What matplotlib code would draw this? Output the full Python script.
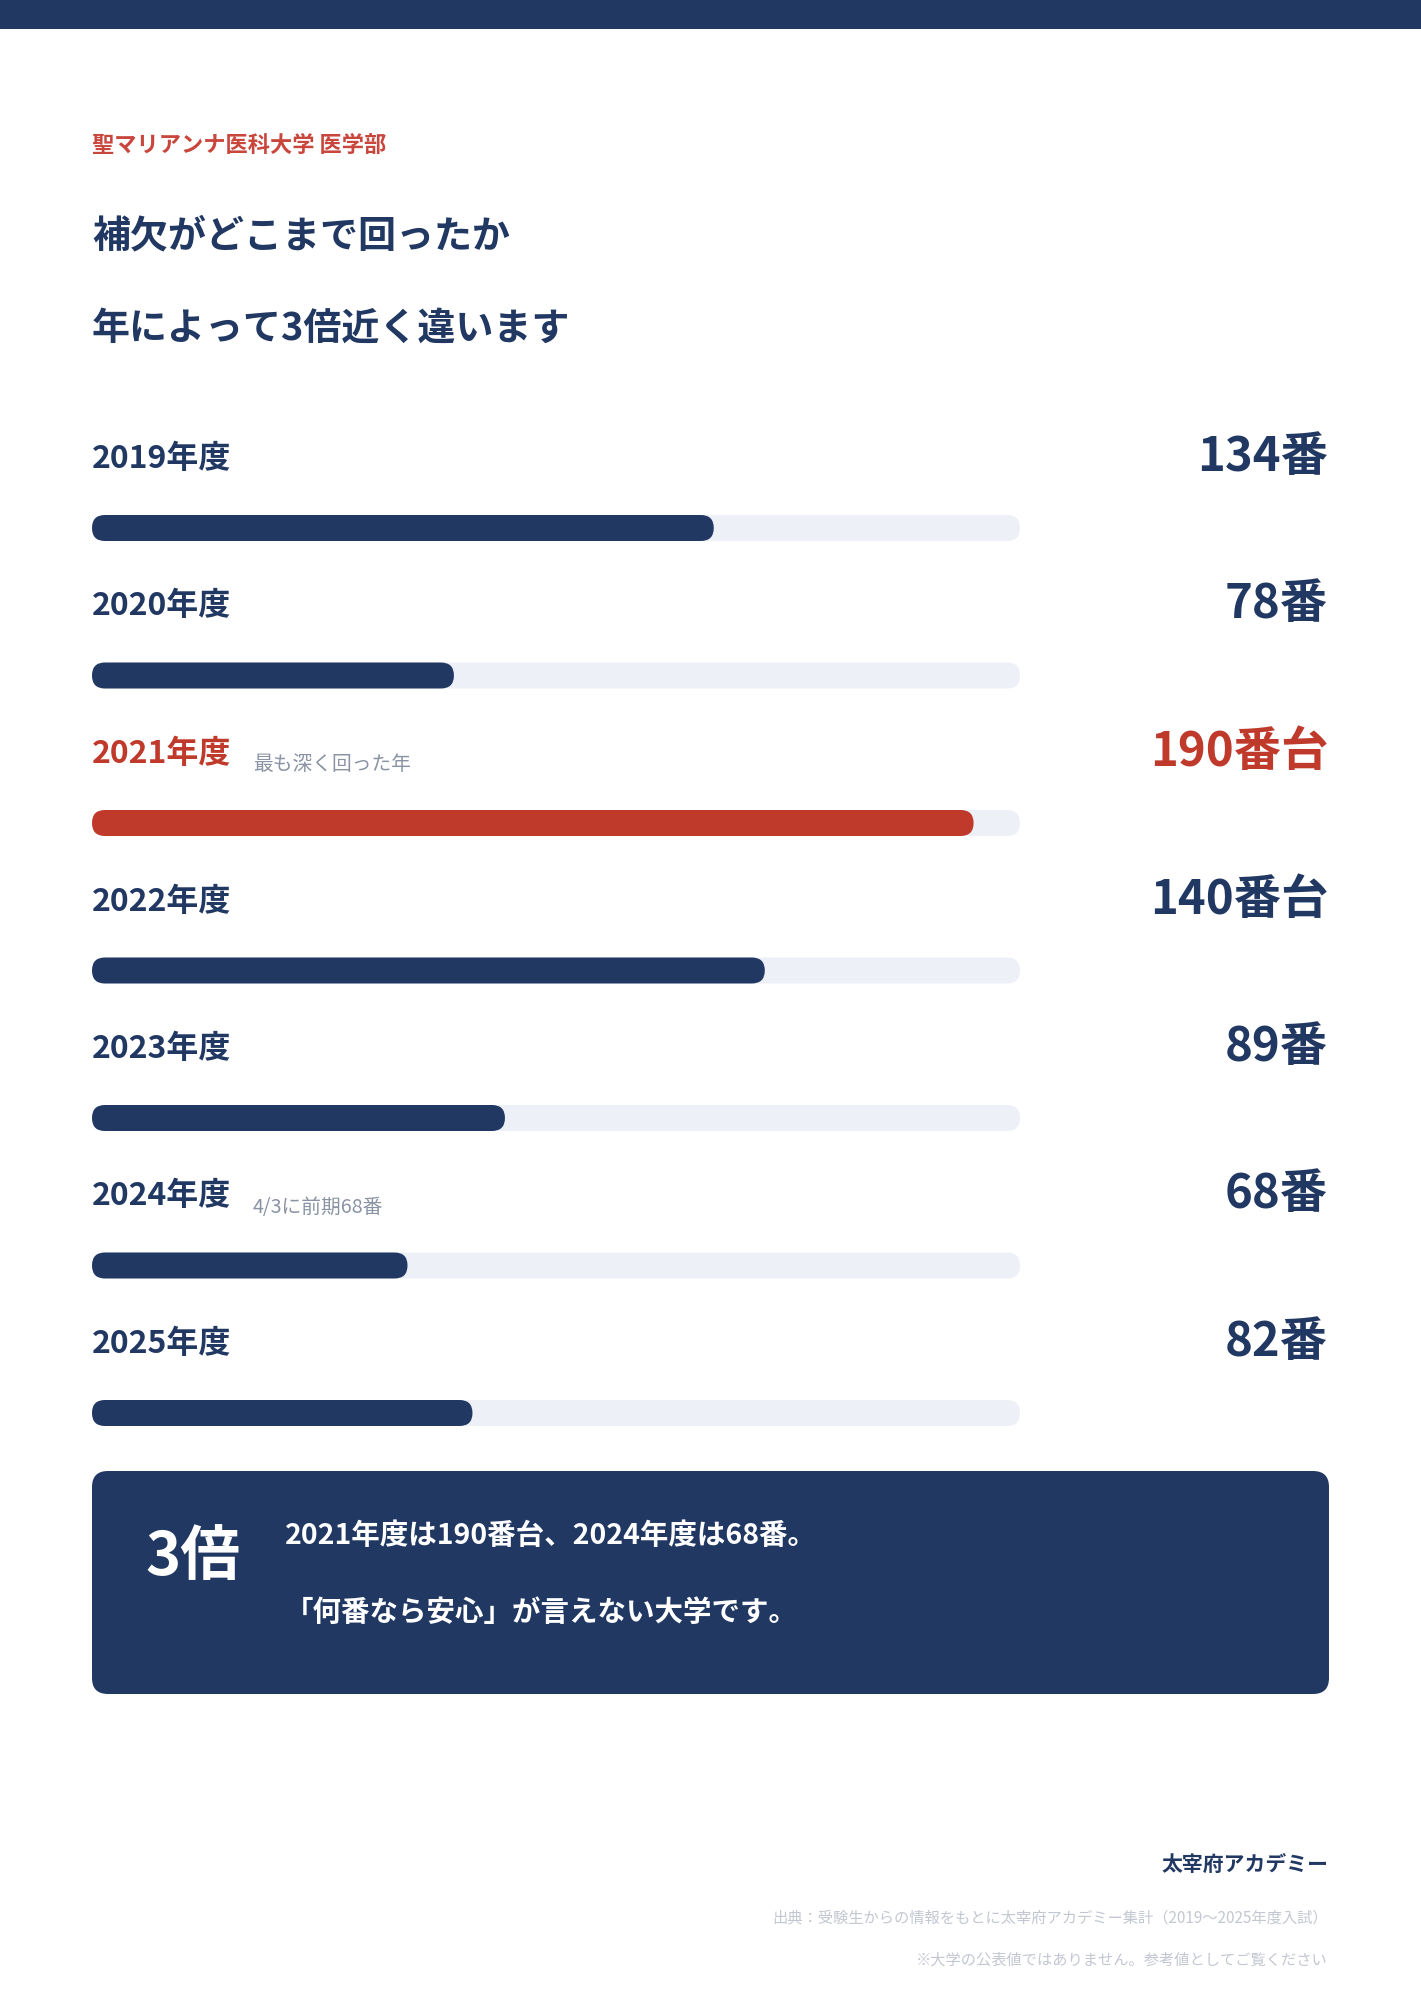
import matplotlib.pyplot as plt
from matplotlib.patches import FancyBboxPatch, Rectangle

plt.rcParams["font.family"] = ["Noto Sans CJK JP", "DejaVu Sans"]

NAVY = "#213863"
RED = "#BF3A2B"
TRACK = "#EDF0F7"
GRAY = "#8A93A3"
LIGHT = "#C3C7D1"

years = ["2019年度", "2020年度", "2021年度", "2022年度", "2023年度", "2024年度", "2025年度"]
values = [134, 78, 190, 145, 89, 68, 82]
value_labels = ["134番", "78番", "190番台", "140番台", "89番", "68番", "82番"]
notes = ["", "", "最も深く回った年", "", "", "4/3に前期68番", ""]
highlight = [False, False, True, False, False, False, False]
scale_max = 200

W, H = 1421, 2000
fig = plt.figure(figsize=(W / 100, H / 100), dpi=100)
ax = fig.add_axes([0, 0, 1, 1])
ax.set_xlim(0, W)
ax.set_ylim(H, 0)
ax.axis("off")

# top band
ax.add_patch(Rectangle((0, 0), W, 29, color=NAVY, lw=0))

left = 92
right = 1328
ax.text(left, 145, "聖マリアンナ医科大学 医学部", color="#C9463D",
        fontsize=16, fontweight="bold", va="center", ha="left")
ax.text(left, 236, "補欠がどこまで回ったか", color=NAVY,
        fontsize=27.4, fontweight="bold", va="center", ha="left")
ax.text(left, 328, "年によって3倍近く違います", color=NAVY,
        fontsize=27.4, fontweight="bold", va="center", ha="left")

track_x0, track_x1 = 92, 1020
bar_h = 26
row_gap = 147.5
label_y0 = 459
bar_y0 = 528

for i, (yr, val, vl, note, hi) in enumerate(zip(years, values, value_labels, notes, highlight)):
    c = RED if hi else NAVY
    ly = label_y0 + i * row_gap
    by = bar_y0 + i * row_gap

    ax.text(left, ly, yr, color=c, fontsize=23, fontweight="bold",
            va="center", ha="left")
    if note:
        ax.text(253, ly + 11, note, color=GRAY, fontsize=14.2,
                va="center", ha="left")
    ax.text(right, ly - 2, vl, color=c, fontsize=34, fontweight="bold",
            va="center", ha="right")

    tw = track_x1 - track_x0
    ax.add_patch(FancyBboxPatch((track_x0, by - bar_h / 2), tw, bar_h,
                                boxstyle=f"round,pad=0,rounding_size={bar_h / 2}",
                                fc=TRACK, ec="none"))
    fw = tw * val / scale_max
    ax.add_patch(FancyBboxPatch((track_x0, by - bar_h / 2), fw, bar_h,
                                boxstyle=f"round,pad=0,rounding_size={bar_h / 2}",
                                fc=c, ec="none"))

# summary box
ax.add_patch(FancyBboxPatch((92, 1471), 1237, 223,
                            boxstyle="round,pad=0,rounding_size=16",
                            fc=NAVY, ec="none"))
ax.text(145, 1558, "3倍", color="white", fontsize=43, fontweight="bold",
        va="center", ha="left")
ax.text(285, 1536, "2021年度は190番台、2024年度は68番。", color="white",
        fontsize=20.5, fontweight="bold", va="center", ha="left")
ax.text(285, 1613, "「何番なら安心」が言えない大学です。", color="white",
        fontsize=20.5, fontweight="bold", va="center", ha="left")

# footer
ax.text(right, 1864, "太宰府アカデミー", color=NAVY, fontsize=15,
        fontweight="bold", va="center", ha="right")
ax.text(right, 1918, "出典：受験生からの情報をもとに太宰府アカデミー集計（2019〜2025年度入試）",
        color=LIGHT, fontsize=11, va="center", ha="right")
ax.text(right, 1960, "※大学の公表値ではありません。参考値としてご覧ください",
        color=LIGHT, fontsize=11, va="center", ha="right")

fig.savefig("out.png", dpi=100, facecolor="white")
